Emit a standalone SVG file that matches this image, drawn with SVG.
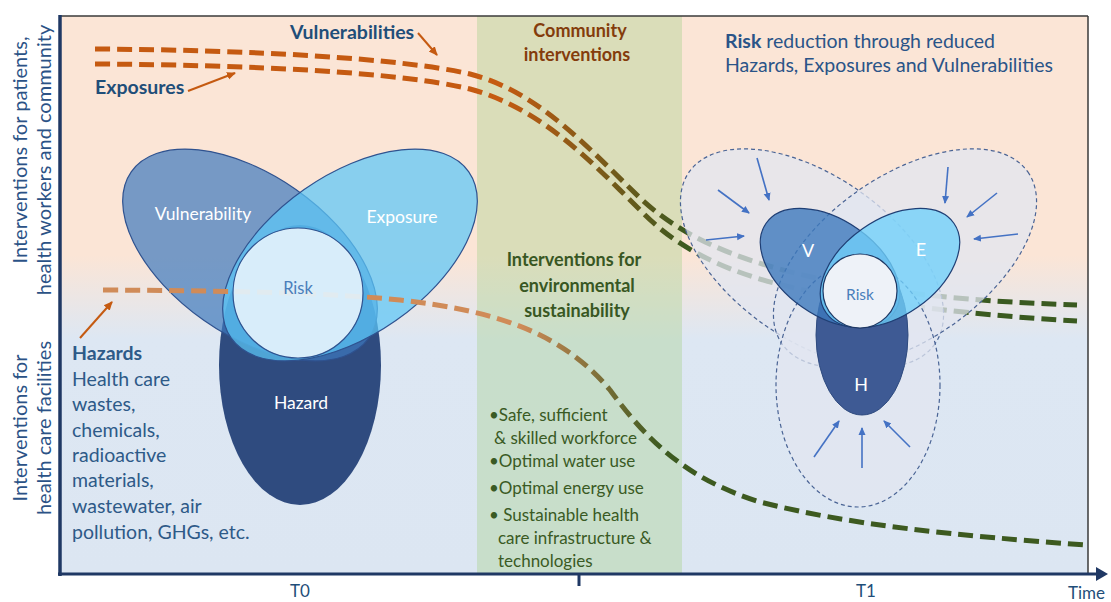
<svg xmlns="http://www.w3.org/2000/svg" width="1111" height="602" viewBox="0 0 1111 602">
<defs>
<linearGradient id="bg" x1="0" y1="16" x2="0" y2="573" gradientUnits="userSpaceOnUse">
<stop offset="0" stop-color="#fbe5d6"/>
<stop offset="0.43" stop-color="#fbe5d6"/>
<stop offset="0.58" stop-color="#dde7f3"/>
<stop offset="1" stop-color="#dce6f2"/>
</linearGradient>
<linearGradient id="gTop" x1="500" y1="0" x2="690" y2="0" gradientUnits="userSpaceOnUse">
<stop offset="0" stop-color="#c55a11"/>
<stop offset="1" stop-color="#3a5a20"/>
</linearGradient>
<linearGradient id="gHaz" x1="520" y1="0" x2="660" y2="0" gradientUnits="userSpaceOnUse">
<stop offset="0" stop-color="#d08b58"/>
<stop offset="1" stop-color="#3d5a20"/>
</linearGradient>
<marker id="ao" markerWidth="10" markerHeight="10" refX="8" refY="5" orient="auto" markerUnits="userSpaceOnUse"><path d="M0,1 L9,5 L0,9 z" fill="#c55a11"/></marker>
<marker id="ab" markerWidth="9" markerHeight="9" refX="7" refY="4.5" orient="auto" markerUnits="userSpaceOnUse"><path d="M0,1 L8,4.5 L0,8 z" fill="#4472c4"/></marker>
</defs>
<style>
text{font-family:Lato,"Liberation Sans",sans-serif}
.dl{fill:none;stroke-width:5;stroke-dasharray:15 7}
.ax{fill:#2b5286;font-size:20px}
.lbl{font-size:19.5px;font-weight:bold;fill:#1f4e79}
.haz{font-size:19.5px;fill:#2e5a88}
.bul{font-size:17px;fill:#3a5a24}
.env{font-size:18px;font-weight:bold;fill:#385723;text-anchor:middle}
.com{font-size:18px;font-weight:bold;fill:#843c0c;text-anchor:middle}
.wt{fill:#fff;font-size:17.5px;text-anchor:middle}
.out{fill:#e1e5f0;fill-opacity:0.75;stroke:#4a6495;stroke-width:1.2;stroke-dasharray:4 3}
.ba{stroke:#4472c4;stroke-width:1.6;marker-end:url(#ab)}
.oa{stroke:#c55a11;stroke-width:2;marker-end:url(#ao)}
.tk{fill:#1f4e79;font-size:17px;text-anchor:middle}
</style>

<g id="background">
<rect x="60" y="16" width="1028" height="557" fill="url(#bg)"/>
<rect x="477" y="16" width="205" height="557" fill="#a9d18e" fill-opacity="0.4"/>
</g>

<g id="connectors">
<path class="dl" stroke="url(#gTop)" d="M95,49 C250,50 400,58 470,74 C540,92 590,150 640,198 C690,245 760,268 850,285 C950,300 1020,303 1077,305"/>
<path class="dl" stroke="url(#gTop)" d="M95,64 C250,65 400,72 470,89 C540,108 590,160 640,210 C690,262 760,285 850,298 C950,312 1020,318 1077,321"/>
<line class="oa" x1="418" y1="33" x2="437" y2="55"/>
<line class="oa" x1="188" y1="91" x2="235" y2="73"/>
<line class="oa" x1="80" y1="338" x2="112" y2="302"/>
</g>

<g id="left-cluster">
<ellipse id="hazard" cx="300" cy="365" rx="81" ry="140" fill="#2f4b7f"/>
<ellipse id="vulnerability" cx="250" cy="255" rx="145" ry="80" transform="rotate(35 250 255)" fill="#3d79bd" fill-opacity="0.7" stroke="#2f528f" stroke-width="1.2"/>
<ellipse id="exposure" cx="350" cy="255" rx="145" ry="80" transform="rotate(-35 350 255)" fill="#5cc6f7" fill-opacity="0.72" stroke="#2f528f" stroke-width="1.2"/>
<path class="dl" stroke="url(#gHaz)" d="M103,290 C250,291 330,293 400,300 C490,310 560,330 610,390 C650,445 690,480 760,502 C850,525 950,535 1085,545"/>
<circle id="risk" cx="298" cy="293" r="65" fill="#e2f2fc" fill-opacity="0.93" stroke="#2f528f" stroke-width="1.2"/>
<text class="wt" x="203" y="220">Vulnerability</text>
<text class="wt" x="402" y="223">Exposure</text>
<text class="wt" x="301" y="409">Hazard</text>
<text x="298" y="294" fill="#4a7ebb" font-size="16.5" text-anchor="middle">Risk</text>
</g>

<g id="right-cluster">
<ellipse class="out" cx="812" cy="258" rx="150" ry="82" transform="rotate(35 812 258)"/>
<ellipse class="out" cx="905" cy="258" rx="150" ry="82" transform="rotate(-35 905 258)"/>
<ellipse class="out" cx="858" cy="385" rx="82" ry="122"/>
<ellipse cx="862" cy="335" rx="46" ry="80" fill="#3e5a94" stroke="#2f4b7f" stroke-width="1"/>
<ellipse cx="830" cy="268" rx="78" ry="48" transform="rotate(35 830 268)" fill="#3d79bd" fill-opacity="0.8" stroke="#1f3f75" stroke-width="1.2"/>
<ellipse cx="890" cy="268" rx="78" ry="48" transform="rotate(-35 890 268)" fill="#6fd0fa" fill-opacity="0.78" stroke="#1f3f75" stroke-width="1.2"/>
<circle cx="860" cy="291" r="37" fill="#eef2f8" stroke="#1f3864" stroke-width="1.2"/>
<text x="808" y="257" fill="#fff" font-size="18" text-anchor="middle">V</text>
<text x="921" y="256" fill="#fff" font-size="18" text-anchor="middle">E</text>
<text x="861" y="391" fill="#fff" font-size="18" text-anchor="middle">H</text>
<text x="860" y="300" fill="#4a7ebb" font-size="15.5" text-anchor="middle">Risk</text>
<line class="ba" x1="757" y1="158" x2="769" y2="200"/>
<line class="ba" x1="718" y1="190" x2="749" y2="213"/>
<line class="ba" x1="706" y1="240" x2="744" y2="236"/>
<line class="ba" x1="948" y1="167" x2="945" y2="203"/>
<line class="ba" x1="997" y1="193" x2="967" y2="217"/>
<line class="ba" x1="1018" y1="234" x2="974" y2="239"/>
<line class="ba" x1="814" y1="457" x2="839" y2="421"/>
<line class="ba" x1="862" y1="468" x2="862" y2="428"/>
<line class="ba" x1="910" y1="447" x2="884" y2="421"/>
</g>

<g id="axes">
<line x1="60" y1="16" x2="1088" y2="16" stroke="#3a3a3a" stroke-width="1.5"/>
<line x1="1088" y1="16" x2="1088" y2="574" stroke="#3a3a3a" stroke-width="1.5"/>
<line x1="60" y1="15" x2="60" y2="576" stroke="#1f3864" stroke-width="3.5"/>
<line x1="58" y1="574" x2="1099" y2="574" stroke="#1f3864" stroke-width="3"/>
<polygon points="1096,567 1108,574 1096,581" fill="#1f3864"/>
<line x1="579" y1="574" x2="579" y2="586" stroke="#1f3864" stroke-width="3"/>
<text class="tk" x="300" y="597">T0</text>
<text class="tk" x="866" y="597">T1</text>
<text x="1068" y="599" fill="#1f4e79" font-size="17">Time</text>
</g>

<g id="axis-labels">
<text class="ax" transform="translate(27,150) rotate(-90)" text-anchor="middle">Interventions for patients,</text>
<text class="ax" transform="translate(51,160) rotate(-90)" text-anchor="middle">health workers and community</text>
<text class="ax" transform="translate(27,428) rotate(-90)" text-anchor="middle">Interventions for</text>
<text class="ax" transform="translate(51,428) rotate(-90)" text-anchor="middle">health care facilities</text>
</g>

<g id="labels">
<text class="lbl" x="290" y="39">Vulnerabilities</text>
<text class="lbl" x="95" y="94">Exposures</text>
<text class="com" x="580" y="37">Community</text>
<text class="com" x="577" y="61">interventions</text>
<text x="725" y="48" font-size="19.5" fill="#2a5488"><tspan font-weight="bold">Risk</tspan> reduction through reduced</text>
<text x="725" y="72" font-size="19.5" fill="#2a5488">Hazards, Exposures and Vulnerabilities</text>
<text class="env" x="574" y="266">Interventions for</text>
<text class="env" x="577" y="292">environmental</text>
<text class="env" x="577" y="317">sustainability</text>
</g>

<g id="bullets">
<text class="bul" x="489" y="421">•Safe, sufficient</text>
<text class="bul" x="494" y="444">&amp; skilled workforce</text>
<text class="bul" x="489" y="467">•Optimal water use</text>
<text class="bul" x="489" y="494">•Optimal energy use</text>
<text class="bul" x="489" y="521">• Sustainable health</text>
<text class="bul" x="498" y="544">care infrastructure &amp;</text>
<text class="bul" x="498" y="567">technologies</text>
</g>

<g id="hazards-text">
<text class="haz" x="72" y="360" font-weight="bold" fill="#1f4e79">Hazards</text>
<text class="haz" x="72" y="386">Health care</text>
<text class="haz" x="72" y="411">wastes,</text>
<text class="haz" x="72" y="437">chemicals,</text>
<text class="haz" x="72" y="462">radioactive</text>
<text class="haz" x="72" y="487">materials,</text>
<text class="haz" x="72" y="513">wastewater, air</text>
<text class="haz" x="72" y="539">pollution, GHGs, etc.</text>
</g>
</svg>
